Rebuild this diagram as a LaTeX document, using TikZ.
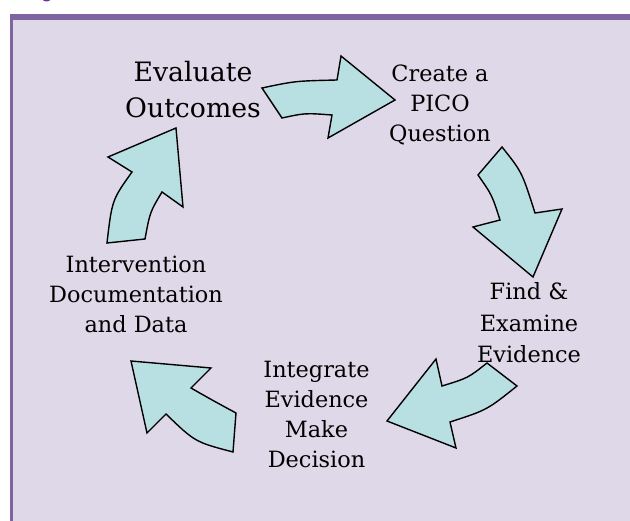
\documentclass[tikz,border=0pt]{standalone}
\usepackage{fontspec}
\setmainfont{DejaVu Serif}
\newfontfamily\titlefont{Carlito}
\definecolor{bandpurple}{HTML}{8064A2}
\definecolor{lilac}{HTML}{DFD8E8}
\definecolor{teal}{HTML}{B8DFE1}
\definecolor{titlepurple}{HTML}{7030A0}
\begin{document}
\begin{tikzpicture}[x=1pt,y=-1pt,
  blockarrow/.style={draw=black, line width=1.4pt, fill=teal, line join=miter},
  lbl/.style={inner sep=0pt, align=center, anchor=base, font=\fontsize{22.4}{30}\selectfont},
  biglbl/.style={inner sep=0pt, align=center, anchor=base, font=\fontsize{26.7}{36}\selectfont}]
\useasboundingbox (0,0) rectangle (630,521);
\fill[white] (0,0) rectangle (630,521);
\begin{scope}
  \clip (0,0) rectangle (630,14);
  \node[text=titlepurple, inner sep=0pt, anchor=base west, font=\titlefont\bfseries\fontsize{20}{24}\selectfont] (title) at (42,-1) {g};
\end{scope}
\fill[lilac] (10,14) rectangle (630,521);
\fill[bandpurple] (10,14) rectangle (630,20);
\fill[bandpurple] (9.5,14) rectangle (12.5,521);

% arrows
\draw[blockarrow] (262,88) .. controls (295,81) .. (337,80) -- (341,56) -- (395,100) -- (328,138) -- (332,115) .. controls (305,113) .. (282,118) -- cycle;
\draw[blockarrow] (502,147) .. controls (522,172) .. (535,213) -- (562,209) -- (533,277) -- (473,227) -- (500,220) .. controls (492,195) .. (478,175) -- cycle;
\draw[blockarrow] (487,363) .. controls (468,378) .. (442,386) -- (436,359) -- (387,421) -- (456,448) -- (450,422) .. controls (487,410) .. (517,386) -- cycle;
\draw[blockarrow] (236,413) .. controls (212,400) .. (191,388) -- (211,368) -- (131,361) -- (147,433) -- (166,414) .. controls (195,442) .. (233,452) -- cycle;
\draw[blockarrow] (107,243) .. controls (112,200) .. (132,172) -- (108,157) -- (176,128) -- (183,207) -- (162,192) .. controls (150,212) .. (145,239) -- cycle;

% labels (anchor = baseline of last line)
\node[biglbl] (eval) at (193,118) {Evaluate\\Outcomes};
\node[lbl] (pico) at (440,142) {Create a\\PICO\\Question};
\node[lbl, font=\fontsize{22.4}{31.5}\selectfont] (find) at (529,363) {Find \&\\Examine\\Evidence};
\node[lbl] (integ) at (316.5,468) {Integrate\\Evidence\\Make\\Decision};
\node[lbl] (interv) at (136,333) {Intervention\\Documentation\\and Data};
\end{tikzpicture}
\end{document}
